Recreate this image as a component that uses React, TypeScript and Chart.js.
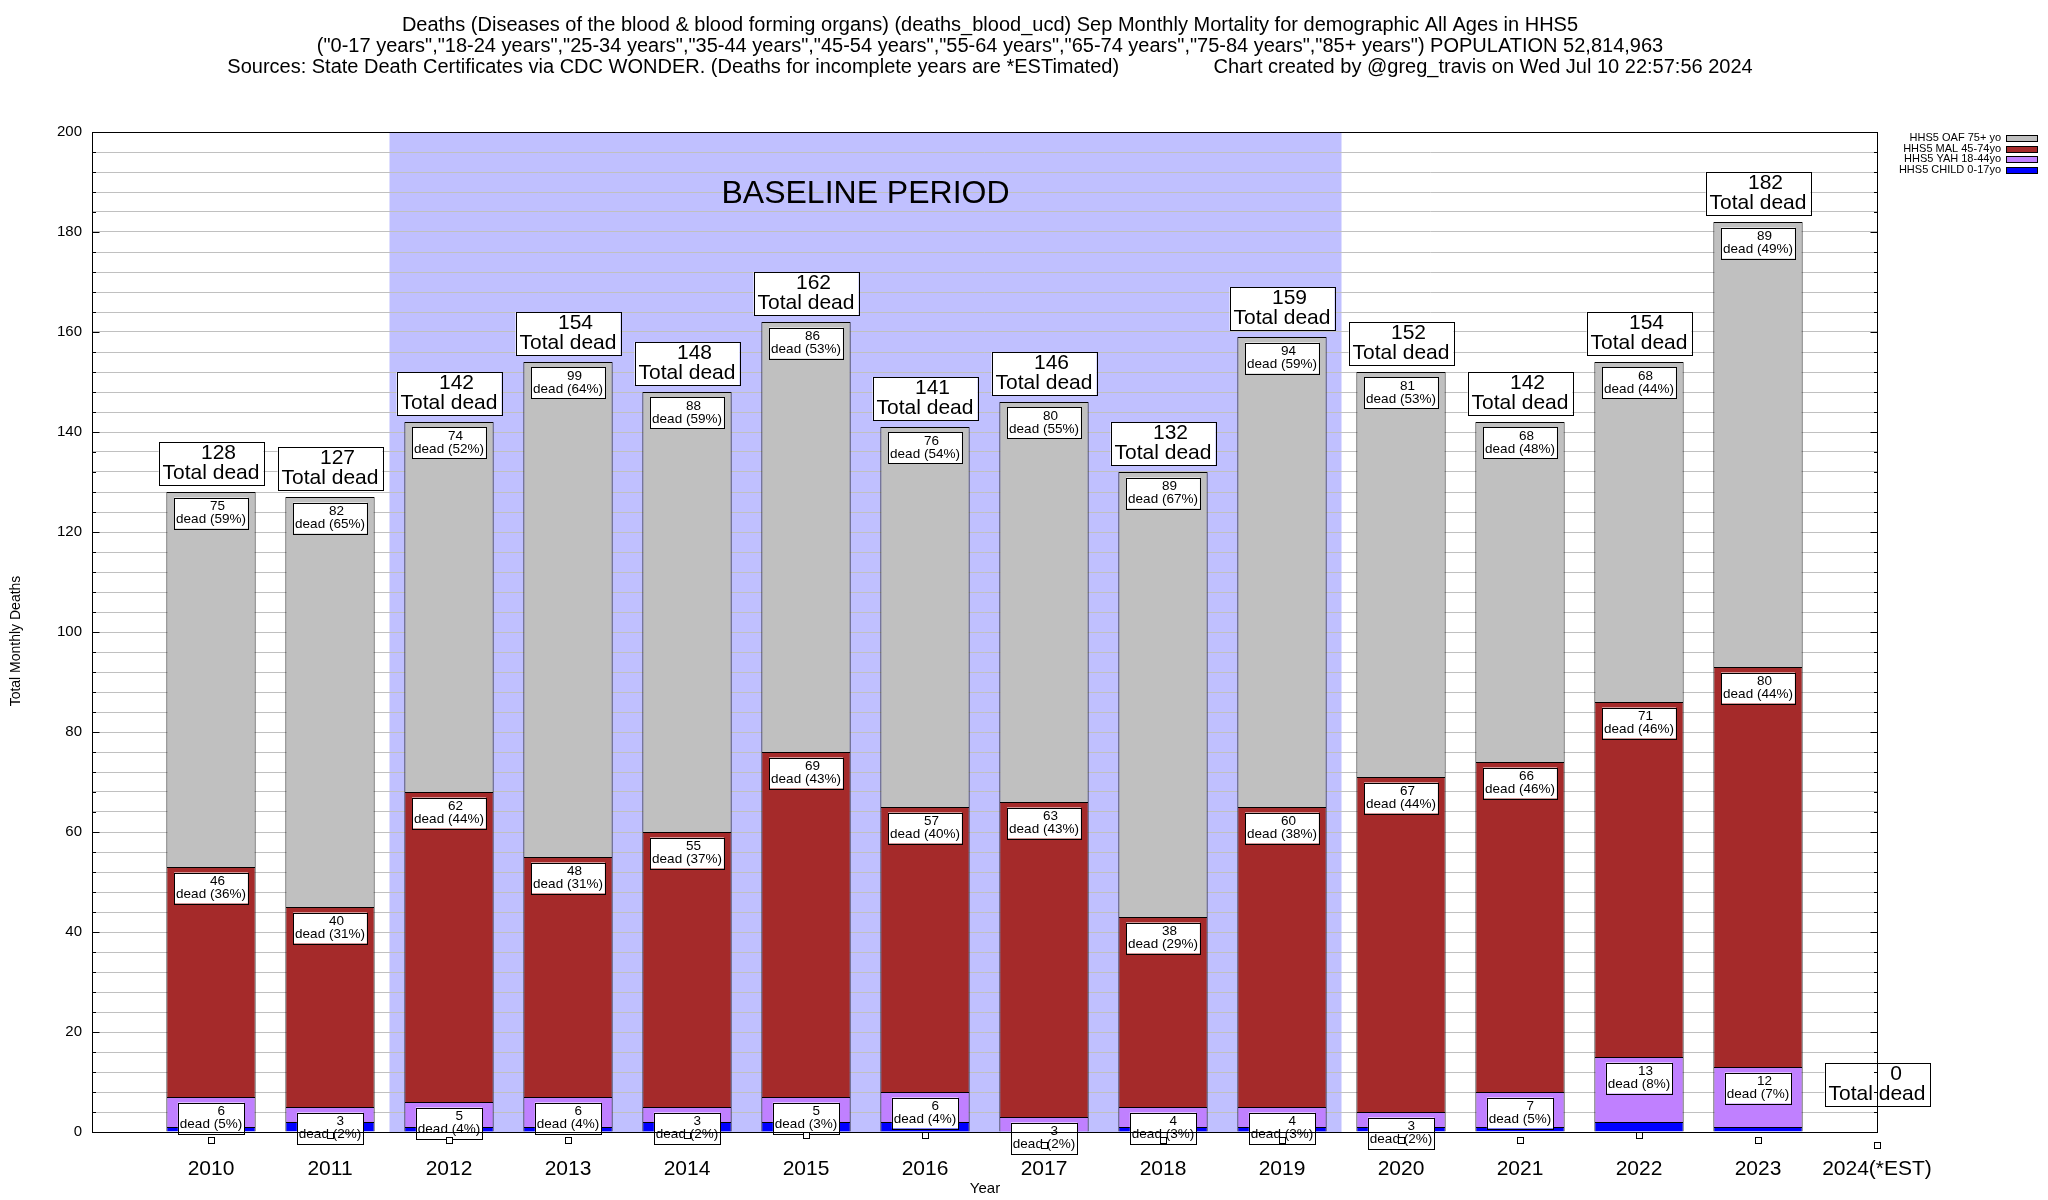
import React, { useEffect, useRef } from "react";
import { Chart, registerables } from "chart.js";

Chart.register(...registerables);

const years = ["2010", "2011", "2012", "2013", "2014", "2015", "2016", "2017", "2018", "2019", "2020", "2021", "2022", "2023", "2024(*EST)"];
const child = [1, 2, 1, 1, 2, 2, 2, 0, 1, 1, 1, 1, 2, 1, 0];
const yah = [6, 3, 5, 6, 3, 5, 6, 3, 4, 4, 3, 7, 13, 12, 0];
const mal = [46, 40, 62, 48, 55, 69, 57, 63, 38, 60, 67, 66, 71, 80, 0];
const oaf = [75, 82, 74, 99, 88, 86, 76, 80, 89, 94, 81, 68, 68, 89, 0];
const totals = [128, 127, 142, 154, 148, 162, 141, 146, 132, 159, 152, 142, 154, 182, 0];
const baselineStart = "2012";
const baselineEnd = "2019";

const seriesNames = ["HHS5 OAF 75+ yo", "HHS5 MAL 45-74yo", "HHS5 YAH 18-44yo", "HHS5 CHILD 0-17yo"];
const titleLines = [
  "Deaths (Diseases of the blood & blood forming organs) (deaths_blood_ucd) Sep Monthly Mortality for demographic All Ages in HHS5",
  "(\"0-17 years\",\"18-24 years\",\"25-34 years\",\"35-44 years\",\"45-54 years\",\"55-64 years\",\"65-74 years\",\"75-84 years\",\"85+ years\") POPULATION 52,814,963",
  "Sources: State Death Certificates via CDC WONDER. (Deaths for incomplete years are *ESTimated)                 Chart created by @greg_travis on Wed Jul 10 22:57:56 2024",
];

const FONT = "'Liberation Sans', Arial, Helvetica, sans-serif";
const COLORS = { oaf: "#c0c0c0", mal: "#a52a2a", yah: "#c080ff", child: "#0000ff", baseline: "#c0c0ff" };

const labels = ["", ...years];
const pad = (a: number[]) => [null, ...a];

const App = () => {
  const ref = useRef<HTMLCanvasElement>(null);
  useEffect(() => {
    document.body.style.margin = "0";
    const canvas = ref.current!;
    const plugin = {
      id: "custom",
      beforeDraw(chart: any) {
        const { ctx, chartArea } = chart;
        const x = chart.scales.x;
        const px0 = x.getPixelForValue(labels.indexOf(baselineStart) - 0.5);
        const px1 = x.getPixelForValue(labels.indexOf(baselineEnd) + 0.5);
        ctx.save();
        ctx.fillStyle = COLORS.baseline;
        ctx.fillRect(px0, chartArea.top, px1 - px0, chartArea.bottom - chartArea.top);
        ctx.restore();
      },
      afterDatasetsDraw(chart: any) {
        const { ctx } = chart;
        const x = chart.scales.x;
        const y = chart.scales.y;
        ctx.save();
        ctx.textBaseline = "middle";
        ctx.lineWidth = 1;
        ctx.strokeStyle = "#000";
        years.forEach((yr, i) => {
          const cx = x.getPixelForValue(i + 1);
          const t = totals[i];
          // total label
          ctx.font = `21px ${FONT}`;
          const l1 = String(t);
          const l2 = "Total dead";
          const w = Math.max(ctx.measureText(l1).width, ctx.measureText(l2).width) + 8;
          const cy = y.getPixelForValue(Math.max(t + 5.7, 9.6));
          ctx.fillStyle = "#fff";
          ctx.fillRect(cx - w / 2, cy - 21.5, w, 43);
          ctx.strokeRect(Math.round(cx - w / 2) + 0.5, Math.round(cy - 21.5) + 0.5, Math.round(w), 43);
          ctx.fillStyle = "#000";
          ctx.textAlign = "right";
          ctx.fillText(l1, cx + 25, cy - 10);
          ctx.textAlign = "center";
          ctx.fillText(l2, cx, cy + 10);
          if (t > 0) {
            const segs = [yah[i], mal[i], oaf[i]];
            let top = child[i];
            ctx.font = `13.5px ${FONT}`;
            segs.forEach((v) => {
              top += v;
              const s1 = String(v);
              const s2 = `dead (${Math.round((v / t) * 100)}%)`;
              const sw = Math.max(ctx.measureText(s1).width, ctx.measureText(s2).width) + 4;
              const sy = y.getPixelForValue(top - 4.2);
              ctx.fillStyle = "#fff";
              ctx.fillRect(cx - sw / 2, sy - 15.5, sw, 31);
              ctx.strokeRect(Math.round(cx - sw / 2) + 0.5, Math.round(sy - 15.5) + 0.5, Math.round(sw), 31);
              ctx.fillStyle = "#000";
              ctx.textAlign = "right";
              ctx.fillText(s1, cx + 14, sy - 6.5);
              ctx.textAlign = "center";
              ctx.fillText(s2, cx, sy + 6.5);
            });
          }
          // child marker
          const my = Math.round(y.getPixelForValue(child[i] - 2.6));
          ctx.fillStyle = "#fff";
          ctx.fillRect(Math.round(cx) - 3, my - 3, 6, 6);
          ctx.strokeRect(Math.round(cx) - 3 + 0.5, my - 3 + 0.5, 6, 6);
        });
        ctx.restore();
      },
      afterDraw(chart: any) {
        const { ctx, chartArea } = chart;
        const y = chart.scales.y;
        const x = chart.scales.x;
        ctx.save();
        ctx.strokeStyle = "#000";
        ctx.lineWidth = 1;
        const L = Math.round(chartArea.left) + 0.5;
        const R = Math.round(chartArea.right) + 0.5;
        const T = Math.round(chartArea.top) + 0.5;
        const B = Math.round(chartArea.bottom) + 0.5;
        ctx.strokeRect(L, T, R - L, B - T);
        ctx.beginPath();
        for (let v = 0; v <= 200; v += 4) {
          const py = Math.round(y.getPixelForValue(v)) + 0.5;
          const len = v % 20 === 0 ? 7 : 3.5;
          ctx.moveTo(L, py);
          ctx.lineTo(L + len, py);
          ctx.moveTo(R - len, py);
          ctx.lineTo(R, py);
        }
        ctx.stroke();

        ctx.fillStyle = "#000";
        ctx.textAlign = "center";
        ctx.textBaseline = "middle";
        // title
        ctx.font = `20px ${FONT}`;
        titleLines.forEach((ln, k) => ctx.fillText(ln, 990, 25 + k * 21));
        // baseline text
        const i0 = labels.indexOf(baselineStart) - 0.5;
        const i1 = labels.indexOf(baselineEnd) + 0.5;
        ctx.font = `32px ${FONT}`;
        ctx.fillText("BASELINE PERIOD", (x.getPixelForValue(i0) + x.getPixelForValue(i1)) / 2, 194);
        // axis titles
        ctx.font = `15px ${FONT}`;
        ctx.fillText("Year", 985, 1189);
        ctx.save();
        ctx.translate(16, 641);
        ctx.rotate(-Math.PI / 2);
        ctx.font = `14px ${FONT}`;
        ctx.fillText("Total Monthly Deaths", 0, 0);
        ctx.restore();
        // legend
        const cols = [COLORS.oaf, COLORS.mal, COLORS.yah, COLORS.child];
        ctx.font = `11px ${FONT}`;
        ctx.textAlign = "right";
        seriesNames.forEach((n, k) => {
          const ly = Math.round(138 + k * 10.5);
          ctx.fillStyle = "#000";
          ctx.fillText(n, 2001, ly);
          ctx.fillStyle = cols[k];
          ctx.fillRect(2006, ly - 3, 31, 6);
          ctx.strokeRect(2006.5, ly - 3 + 0.5, 31, 6);
        });
        ctx.restore();
      },
    };

    const barBase = { borderColor: "#000", borderWidth: 1, borderSkipped: "start" as any, barPercentage: 1, categoryPercentage: 0.75, stack: "s" };
    const chart = new Chart(canvas, {
      type: "bar",
      data: {
        labels,
        datasets: [
          { ...barBase, label: seriesNames[3], data: pad(child), backgroundColor: COLORS.child },
          { ...barBase, label: seriesNames[2], data: pad(yah), backgroundColor: COLORS.yah },
          { ...barBase, label: seriesNames[1], data: pad(mal), backgroundColor: COLORS.mal },
          { ...barBase, label: seriesNames[0], data: pad(oaf), backgroundColor: COLORS.oaf },
        ],
      },
      options: {
        animation: false,
        responsive: false,
        devicePixelRatio: 1,
        layout: { padding: { left: 0, right: 171, top: 132, bottom: 0 } },
        plugins: { legend: { display: false }, title: { display: false }, tooltip: { enabled: false } },
        scales: {
          x: {
            type: "category",
            offset: false,
            stacked: true,
            grid: { display: false, drawTicks: false },
            border: { display: false },
            ticks: { autoSkip: false, maxRotation: 0, padding: 25, color: "#000", font: { family: FONT, size: 21 } },
            afterFit: (s: any) => { s.height = 68; },
          },
          y: {
            type: "linear",
            min: 0,
            max: 200,
            stacked: true,
            grid: { color: "#c0c0c0", lineWidth: 1, drawTicks: false },
            border: { display: false },
            ticks: {
              stepSize: 4,
              autoSkip: false,
              padding: 10,
              color: "#000",
              font: { family: FONT, size: 15 },
              callback: (v: any) => (Number(v) % 20 === 0 ? String(v) : ""),
            },
            afterFit: (s: any) => { s.width = 92; },
          },
        },
      },
      plugins: [plugin],
    });
    return () => chart.destroy();
  }, []);
  return <canvas ref={ref} width={2048} height={1200} style={{ display: "block" }} />;
};

export default App;
